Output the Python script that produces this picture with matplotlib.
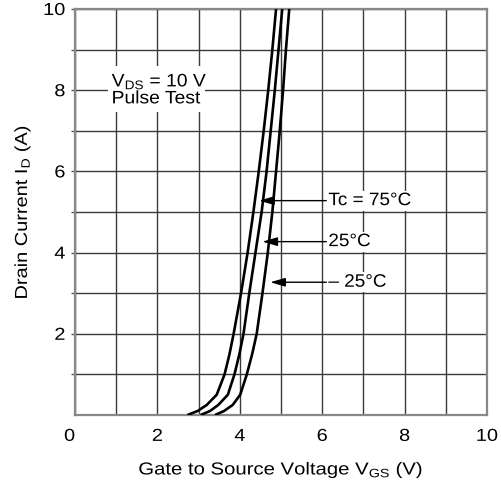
import matplotlib
matplotlib.use("Agg")
import matplotlib.pyplot as plt
from matplotlib.patheffects import AbstractPathEffect
from matplotlib.transforms import Affine2D

plt.rcParams['font.family'] = ['Liberation Sans', 'DejaVu Sans']
plt.rcParams['mathtext.fontset'] = 'custom'
plt.rcParams['mathtext.rm'] = 'Liberation Sans'
plt.rcParams['mathtext.it'] = 'Liberation Sans'

# Transfer characteristics: drain current vs gate-source voltage
id_levels = [0, 0.1, 0.25, 0.5, 1, 1.5, 2, 3, 4, 5, 6, 7, 8, 9, 10]
vgs_75c = [2.73, 2.98, 3.20, 3.44, 3.63, 3.75, 3.85, 4.03, 4.19, 4.33, 4.46, 4.58, 4.69, 4.79, 4.88]
vgs_25c = [3.05, 3.28, 3.48, 3.71, 3.87, 3.99, 4.09, 4.23, 4.38, 4.53, 4.65, 4.75, 4.85, 4.94, 5.03]
vgs_m25c = [3.40, 3.62, 3.83, 4.01, 4.17, 4.30, 4.41, 4.55, 4.68, 4.79, 4.88, 4.97, 5.05, 5.12, 5.20]

curve_labels = ["Tc = 75°C", "25°C", "– 25°C"]
arrow_tips = [(4.47, 5.28), (4.55, 4.27), (4.74, 3.27)]
label_x = 6.15

x_ticks = [0, 2, 4, 6, 8, 10]
y_ticks = [2, 4, 6, 8, 10]


class WideText(AbstractPathEffect):
    """Draw text glyphs stretched horizontally about an anchor."""

    def __init__(self, sx, anchor='center'):
        super().__init__()
        self.sx = sx
        self.anchor = anchor

    def draw_path(self, renderer, gc, tpath, affine, rgbFace=None):
        ext = tpath.get_extents()
        if self.anchor == 'left':
            x0 = ext.x0
        elif self.anchor == 'right':
            x0 = ext.x1
        else:
            x0 = 0.5 * (ext.x0 + ext.x1)
        stretch = Affine2D().translate(-x0, 0).scale(self.sx, 1).translate(x0, 0)
        renderer.draw_path(gc, tpath, stretch + affine, rgbFace)


fig = plt.figure(figsize=(5.02, 4.85), dpi=100)
ax = fig.add_axes([75 / 502, 69 / 485, 412 / 502, 406 / 485])

ax.set_xlim(0, 10)
ax.set_ylim(0, 10)
ax.set_xticks(x_ticks)
ax.set_xticks(range(1, 10, 2), minor=True)
ax.set_yticks(y_ticks)
ax.set_yticks(range(1, 10, 2), minor=True)
ax.set_xticklabels([str(v) for v in x_ticks], fontsize=12.5)
ax.set_yticklabels([str(v) for v in y_ticks], fontsize=12.5)
ax.tick_params(axis='x', which='both', length=0, pad=10)
ax.tick_params(axis='y', which='both', length=3, width=1, color='#555555', pad=4)

for i, lab in enumerate(ax.get_xticklabels()):
    if i == 0:
        lab.set_ha('right')
        lab.set_path_effects([WideText(1.15, 'right')])
    else:
        lab.set_path_effects([WideText(1.15, 'center')])
for lab in ax.get_yticklabels():
    lab.set_path_effects([WideText(1.15, 'right')])

ax.grid(True, which='both', color='#3a3a3a', lw=1.0, zorder=0)
ax.set_axisbelow(True)
for sp in ax.spines.values():
    sp.set_color('#888888')
    sp.set_linewidth(1.6)

for vgs in (vgs_75c, vgs_25c, vgs_m25c):
    ax.plot(vgs, id_levels, color='black', lw=1.9, solid_capstyle='butt', zorder=3)

for text, tip in zip(curve_labels, arrow_tips):
    ax.annotate('', xy=tip, xytext=(label_x - 0.05, tip[1]),
                arrowprops=dict(arrowstyle='-|>,head_length=0.75,head_width=0.22',
                                color='black', lw=1.0, shrinkA=0, shrinkB=0,
                                mutation_scale=12),
                zorder=4)
    t = ax.text(label_x, tip[1], text, fontsize=13, va='center', ha='left',
                bbox=dict(fc='white', ec='none', pad=1.0), zorder=4)
    t.set_path_effects([WideText(1.05, 'left')])

vds = ax.text(0.89, 8.02, "V$\\mathregular{_{DS}}$ = 10 V\nPulse Test", fontsize=13,
              ha='left', va='center', linespacing=0.92,
              bbox=dict(fc='white', ec='none', pad=3), zorder=4)
vds.set_path_effects([WideText(1.07, 'left')])

ax.set_xlabel("Gate to Source Voltage V$\\mathregular{_{GS}}$ (V)", fontsize=12.5, labelpad=12)
ax.set_ylabel("Drain Current I$\\mathregular{_D}$ (A)", fontsize=12.5, labelpad=10)
ax.xaxis.label.set_path_effects([WideText(1.17, 'center')])
ax.yaxis.label.set_path_effects([WideText(1.15, 'center')])

fig.savefig("out.png", dpi=100)
